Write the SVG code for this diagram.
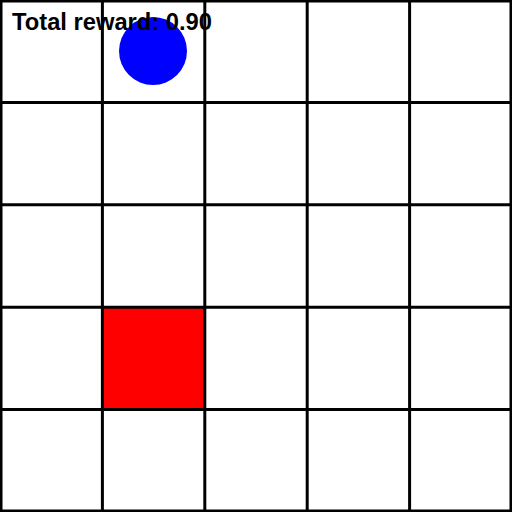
<svg xmlns="http://www.w3.org/2000/svg" width="512" height="512" viewBox="0 0 512 512">
<style>
.grid line{stroke:#000;stroke-width:3}
.lbl{font-family:"Liberation Sans",Arial,sans-serif;font-weight:bold;font-size:23.5px;fill:#000}
</style>
<rect x="0" y="0" width="512" height="512" fill="#fff"/>
<g id="goal"><rect x="102.4" y="307.2" width="102.4" height="102.4" fill="#ff0000"/></g>
<g id="agent"><circle cx="153" cy="51" r="34" fill="#0000ff"/></g>
<g class="grid" id="grid">
<line x1="1" y1="0" x2="1" y2="512"/>
<line x1="102.4" y1="0" x2="102.4" y2="512"/>
<line x1="204.8" y1="0" x2="204.8" y2="512"/>
<line x1="307.2" y1="0" x2="307.2" y2="512"/>
<line x1="409.6" y1="0" x2="409.6" y2="512"/>
<line x1="511" y1="0" x2="511" y2="512"/>
<line x1="0" y1="1" x2="512" y2="1"/>
<line x1="0" y1="102.4" x2="512" y2="102.4"/>
<line x1="0" y1="204.8" x2="512" y2="204.8"/>
<line x1="0" y1="307.2" x2="512" y2="307.2"/>
<line x1="0" y1="409.6" x2="512" y2="409.6"/>
<line x1="0" y1="511" x2="512" y2="511"/>
</g>
<g id="label"><text class="lbl" x="12" y="30" textLength="200" lengthAdjust="spacingAndGlyphs">Total reward: 0.90</text></g>
</svg>
